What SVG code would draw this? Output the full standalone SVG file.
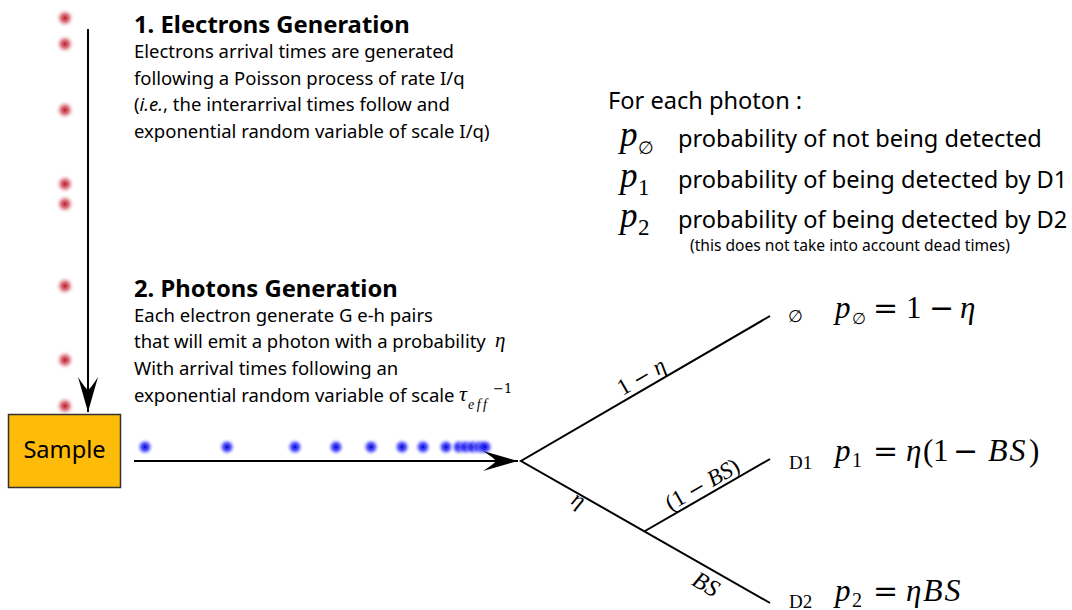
<svg xmlns="http://www.w3.org/2000/svg" width="1072" height="610" viewBox="0 0 1072 610">
<style>
.h{font-family:"Noto Sans","Open Sans",sans-serif;font-weight:bold;font-size:23.8px;fill:#000}
.b{font-family:"Noto Sans","Open Sans",sans-serif;font-size:18.5px;fill:#000}
.r{font-family:"Noto Sans","Open Sans",sans-serif;font-size:23.6px;fill:#000}
.s{font-family:"Noto Sans","Open Sans",sans-serif;font-size:15.6px;fill:#000}
.ln{stroke:#000;stroke-width:2;fill:none}
</style>
<defs>
<radialGradient id="rg">
<stop offset="0" stop-color="#b01020" stop-opacity="0.95"/>
<stop offset="0.4" stop-color="#d04050" stop-opacity="0.7"/>
<stop offset="1" stop-color="#ffffff" stop-opacity="0"/>
</radialGradient>
<radialGradient id="bg">
<stop offset="0" stop-color="#0000cc" stop-opacity="1"/>
<stop offset="0.45" stop-color="#3333ff" stop-opacity="0.75"/>
<stop offset="1" stop-color="#ffffff" stop-opacity="0"/>
</radialGradient>
<marker id="ah" markerUnits="userSpaceOnUse" markerWidth="40" markerHeight="24" viewBox="-36 -12 40 24" refX="0" refY="0" orient="auto">
<path d="M0,0 L-35,-10 Q-24,-3 -22,0 Q-24,3 -35,10 Z" fill="#000"/>
</marker>
</defs>

<g id="electrons">
<circle cx="65" cy="18" r="10" fill="url(#rg)"/>
<circle cx="65" cy="44" r="10" fill="url(#rg)"/>
<circle cx="65" cy="110" r="10" fill="url(#rg)"/>
<circle cx="65" cy="184" r="10" fill="url(#rg)"/>
<circle cx="65" cy="204" r="10" fill="url(#rg)"/>
<circle cx="65" cy="286" r="10" fill="url(#rg)"/>
<circle cx="65" cy="360" r="10" fill="url(#rg)"/>
<circle cx="65" cy="406" r="10" fill="url(#rg)"/>
</g>

<g id="photons">
<circle cx="145" cy="447" r="9" fill="url(#bg)"/>
<circle cx="227" cy="447" r="9" fill="url(#bg)"/>
<circle cx="295" cy="447" r="9" fill="url(#bg)"/>
<circle cx="336" cy="447" r="9" fill="url(#bg)"/>
<circle cx="371" cy="447" r="9" fill="url(#bg)"/>
<circle cx="402" cy="447" r="9" fill="url(#bg)"/>
<circle cx="423" cy="447" r="9" fill="url(#bg)"/>
<circle cx="446" cy="447" r="9" fill="url(#bg)"/>
<circle cx="459" cy="447" r="9" fill="url(#bg)"/>
<circle cx="466" cy="447" r="9" fill="url(#bg)"/>
<circle cx="473" cy="447" r="9" fill="url(#bg)"/>
<circle cx="480" cy="447" r="9" fill="url(#bg)"/>
<circle cx="485" cy="447" r="9" fill="url(#bg)"/>
</g>

<g id="sample">
<rect x="8.5" y="414.5" width="112" height="73" fill="#ffbb0a" stroke="#333" stroke-width="1.5"/>
<text x="64.5" y="458" text-anchor="middle" class="r">Sample</text>
</g>

<g id="connectors">
<line x1="88" y1="29" x2="88" y2="412" class="ln" marker-end="url(#ah)"/>
<line x1="134" y1="461" x2="518" y2="461" class="ln" marker-end="url(#ah)"/>
<path d="M770,316 L521,461 L770,603" class="ln"/>
<line x1="645" y1="531" x2="770" y2="459" class="ln"/>
</g>

<g id="step1">
<text x="134" y="33" class="h">1. Electrons Generation</text>
<text x="134" y="58" class="b">Electrons arrival times are generated</text>
<text x="134" y="85" class="b">following a Poisson process of rate I/q</text>
<text x="134" y="111" class="b">(<tspan font-style="italic">i.e.</tspan>, the interarrival times follow and</text>
<text x="134" y="138" class="b">exponential random variable of scale I/q)</text>
</g>

<g id="step2">
<text x="134" y="297" class="h">2. Photons Generation</text>
<text x="134" y="322" class="b">Each electron generate G e-h pairs</text>
<text x="134" y="348" class="b">that will emit a photon with a probability</text>
<text x="495" y="347" font-family="Liberation Serif" font-style="italic" font-size="21">η</text>
<text x="134" y="375" class="b">With arrival times following an</text>
<text x="134" y="402" class="b">exponential random variable of scale</text>
<text x="459" y="401" font-family="Liberation Serif" font-style="italic" font-size="22">τ</text>
<text x="468" y="409" font-family="Liberation Serif" font-style="italic" font-size="14" letter-spacing="2.5">eff</text>
<text x="493" y="393" font-family="DejaVu Serif" font-size="13">−1</text>
</g>

<g id="legend">
<text x="608" y="109" class="r">For each photon :</text>
<text x="620" y="146" font-family="Liberation Serif" font-style="italic" font-size="35">p</text>
<text x="638" y="154" font-family="DejaVu Serif" font-size="18">∅</text>
<text x="678" y="147" class="r">probability of not being detected</text>
<text x="620" y="187" font-family="Liberation Serif" font-style="italic" font-size="35">p</text>
<text x="638" y="195" font-family="Liberation Serif" font-size="23">1</text>
<text x="678" y="188" class="r">probability of being detected by D1</text>
<text x="620" y="227" font-family="Liberation Serif" font-style="italic" font-size="35">p</text>
<text x="638" y="235" font-family="Liberation Serif" font-size="23">2</text>
<text x="678" y="228" class="r">probability of being detected by D2</text>
<text x="690" y="251" class="s">(this does not take into account dead times)</text>
</g>

<g id="branch-labels">
<text transform="translate(645,383) rotate(-30)" text-anchor="middle" font-family="Liberation Serif" font-size="23">1 <tspan font-family="DejaVu Serif" font-size="21">−</tspan> <tspan font-style="italic">η</tspan></text>
<text transform="translate(575,506) rotate(30)" text-anchor="middle" font-family="Liberation Serif" font-style="italic" font-size="23">η</text>
<text transform="translate(706,491) rotate(-30)" text-anchor="middle" font-family="Liberation Serif" font-size="23">(1 <tspan font-family="DejaVu Serif" font-size="21">−</tspan> <tspan font-style="italic">BS</tspan>)</text>
<text transform="translate(702,591) rotate(30)" text-anchor="middle" font-family="Liberation Serif" font-style="italic" font-size="24">BS</text>
</g>

<g id="outcome-empty">
<text x="788" y="322" font-family="DejaVu Serif" font-size="17">∅</text>
<text x="835" y="318" font-family="Liberation Serif" font-style="italic" font-size="31">p</text>
<text x="852" y="324" font-family="DejaVu Serif" font-size="16">∅</text>
<text x="873" y="318" font-family="DejaVu Serif" font-size="30">=</text>
<text x="906" y="318" font-family="Liberation Serif" font-size="31">1</text>
<text x="929" y="318" font-family="DejaVu Serif" font-size="30">−</text>
<text x="960" y="318" font-family="Liberation Serif" font-style="italic" font-size="31">η</text>
</g>
<g id="outcome-d1">
<text x="789" y="469" font-family="Liberation Serif" font-size="19">D1</text>
<text x="835" y="461" font-family="Liberation Serif" font-style="italic" font-size="31">p</text>
<text x="852" y="467" font-family="Liberation Serif" font-size="20">1</text>
<text x="873" y="461" font-family="DejaVu Serif" font-size="30">=</text>
<text x="906" y="461" font-family="Liberation Serif" font-style="italic" font-size="31">η</text>
<text x="923" y="461" font-family="Liberation Serif" font-size="31">(</text>
<text x="933" y="461" font-family="Liberation Serif" font-size="31">1</text>
<text x="953" y="461" font-family="DejaVu Serif" font-size="30">−</text>
<text x="988" y="461" font-family="Liberation Serif" font-style="italic" font-size="32" letter-spacing="2">BS</text>
<text x="1029" y="461" font-family="Liberation Serif" font-size="31">)</text>
</g>
<g id="outcome-d2">
<text x="789" y="608" font-family="Liberation Serif" font-size="19">D2</text>
<text x="835" y="601" font-family="Liberation Serif" font-style="italic" font-size="31">p</text>
<text x="852" y="607" font-family="Liberation Serif" font-size="20">2</text>
<text x="873" y="601" font-family="DejaVu Serif" font-size="30">=</text>
<text x="906" y="601" font-family="Liberation Serif" font-style="italic" font-size="31">η</text>
<text x="923" y="601" font-family="Liberation Serif" font-style="italic" font-size="32" letter-spacing="2">BS</text>
</g>
</svg>
